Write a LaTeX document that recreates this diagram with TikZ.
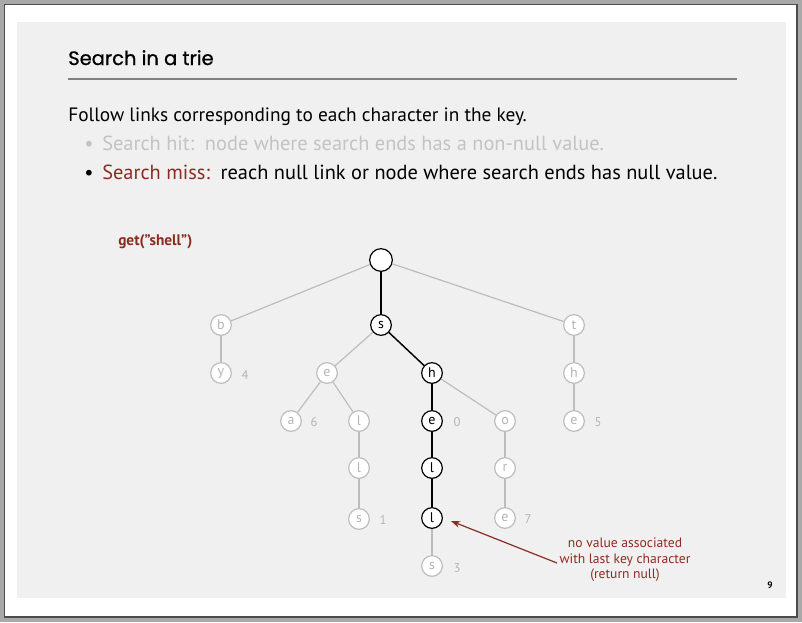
\documentclass[tikz,border=0pt]{standalone}
\usepackage{fontspec}
\setmainfont{PT Sans}
\newfontfamily\titlefont[FakeBold=0.8]{Poppins}
\usetikzlibrary{arrows.meta}
\definecolor{framegray}{HTML}{A9A9A9}
\definecolor{slidegray}{HTML}{F0F0F0}
\definecolor{linkgray}{HTML}{BDBDBD}
\definecolor{textgray}{HTML}{B4B4B4}
\definecolor{missred}{HTML}{8B2C22}
\tikzset{
  trienode/.style={circle, draw=linkgray, fill=white, line width=0.9pt, minimum size=15.5pt, inner sep=0pt, text=textgray, font=\fontsize{10.5}{10}\selectfont},
  pathnode/.style={trienode, draw=black, text=black},
  rootnode/.style={pathnode, minimum size=17pt},
  val/.style={text=textgray, font=\fontsize{9.5}{10}\selectfont},
  link/.style={draw=linkgray, line width=0.9pt},
  pathlink/.style={draw=black, line width=1.1pt},
  bodytext/.style={anchor=base west, inner sep=0pt, font=\fontsize{15.3}{18}\selectfont}
}
\begin{document}
\begin{tikzpicture}[x=0.75pt,y=-0.75pt]
    \useasboundingbox (0,0) rectangle (802,622);
    \fill[framegray] (0,0) rectangle (802,622);
    \fill[white] (4.5,4.5) rectangle (797,617);
    \draw[black!70, line width=1pt] (4.5,4.5) rectangle (797,617);
    \fill[slidegray] (17,22) rectangle (786,598);

    % title
    \node[anchor=base west, inner sep=0pt, font=\titlefont\fontsize{14.6}{18}\selectfont] (title) at (68,65) {Search in a trie};
    \draw[black!50, line width=1.1pt] (68,79) -- (737,79);

    % text
    \node[bodytext, font=\fontsize{14.5}{17}\selectfont] (rule) at (68,121) {Follow links corresponding to each character in the key.};
    \node[bodytext, text=textgray!80] (hitdot) at (84,150) {\textbullet};
    \node[bodytext, text=textgray!80] (hit) at (102,150) {Search hit:\hspace{8pt}node where search ends has a non-null value.};
    \node[bodytext] (missdot) at (84,179) {\textbullet};
    \node[bodytext] (miss) at (102,179) {\textcolor{missred}{Search miss:}\hspace{8pt}reach null link or node where search ends has null value.};

    \node[anchor=base west, inner sep=0pt, text=missred, font=\bfseries\fontsize{11.5}{12}\selectfont] (query) at (118,245) {get(\symbol{34}shell\symbol{34})};

    % trie
    \node[rootnode] (root) at (381,260) {};
    \node[trienode] (b) at (221,325) {b};        %b
    \node[pathnode] (s) at (381,325) {s};        %s
    \node[trienode] (t) at (574,325) {t};        %t
    \node[trienode] (by) at (221,373) {y};       %by
    \node[trienode] (se) at (327,373) {e};       %se
    \node[pathnode] (sh) at (432,373) {h};       %sh
    \node[trienode] (th) at (574,373) {h};       %th
    \node[trienode] (sea) at (291,421) {a};      %sea
    \node[trienode] (sel) at (359,421) {l};      %sel
    \node[pathnode] (she) at (432,421) {e};      %she
    \node[trienode] (sho) at (505,421) {o};      %sho
    \node[trienode] (the) at (574,421) {e};      %the
    \node[trienode] (sell) at (359,468) {l};     %sell
    \node[pathnode] (shel) at (432,468) {l};     %shel
    \node[trienode] (shor) at (505,468) {r};     %shor
    \node[trienode] (sells) at (359,519) {s};    %sells
    \node[pathnode] (shell) at (432,518) {l};    %shell
    \node[trienode] (shore) at (505,518) {e};    %shore
    \node[trienode] (shells) at (432,566) {s};   %shells

    % values
    \node[val] (v4) at (245,375) {4};
    \node[val] (v6) at (314,422) {6};
    \node[val] (v0) at (457,422) {0};
    \node[val] (v5) at (598,422) {5};
    \node[val] (v1) at (383,520) {1};
    \node[val] (v7) at (528,519) {7};
    \node[val] (v3) at (457,568) {3};

    % links
    \draw[link] (root) -- (b);
    \draw[link] (root) -- (t);
    \draw[link] (b) -- (by);
    \draw[link] (s) -- (se);
    \draw[link] (se) -- (sea);
    \draw[link] (se) -- (sel);
    \draw[link] (sel) -- (sell);
    \draw[link] (sell) -- (sells);
    \draw[link] (sh) -- (sho);
    \draw[link] (sho) -- (shor);
    \draw[link] (shor) -- (shore);
    \draw[link] (shell) -- (shells);
    \draw[link] (t) -- (th);
    \draw[link] (th) -- (the);
    \draw[pathlink] (root) -- (s);
    \draw[pathlink] (s) -- (sh);
    \draw[pathlink] (sh) -- (she);
    \draw[pathlink] (she) -- (shel);
    \draw[pathlink] (shel) -- (shell);

    % note
    \node[align=center, text=missred, font=\fontsize{10.2}{11.6}\selectfont] (note) at (625,560) {no value associated\\with last key character\\(return null)};
    \coordinate (tail) at (557,563);
    \draw[missred, line width=0.9pt, -{Stealth[length=7pt,width=5pt]}] (tail) -- ([shift={(8,3)}]shell.east);
    \node[font=\bfseries\fontsize{7}{8}\selectfont] (page) at (770,585) {9};
\end{tikzpicture}
\end{document}
